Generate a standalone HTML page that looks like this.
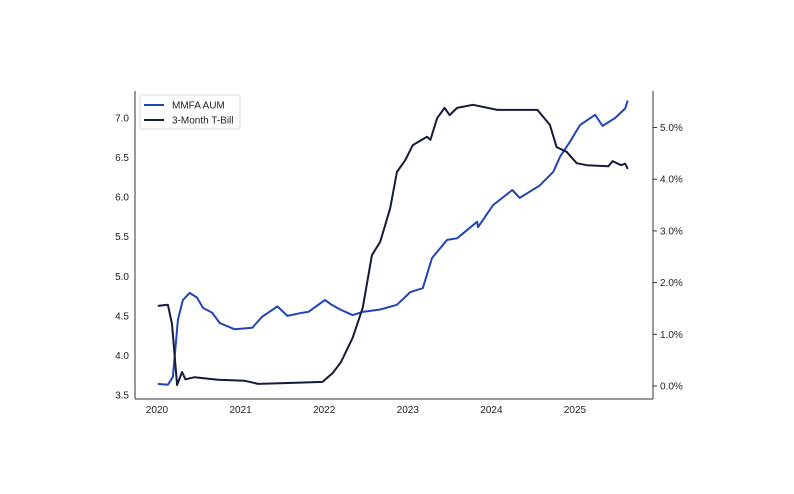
<!DOCTYPE html>
<html><head><meta charset="utf-8"><style>
body{margin:0;background:#fff;}
svg{display:block;font-family:"Liberation Sans",Arial,sans-serif;}
</style></head><body>
<svg id="chart" width="794" height="494"></svg>
<script>
const years = [2020,2021,2022,2023,2024,2025];
const leftTicks = [3.5,4.0,4.5,5.0,5.5,6.0,6.5,7.0];
const rightTicks = [0,1,2,3,4,5];
const aumDates = [2020.01,2020.13,2020.19,2020.25,2020.31,2020.39,2020.48,2020.55,2020.66,2020.75,2020.93,2021.14,2021.26,2021.33,2021.44,2021.56,2021.74,2021.81,2022.01,2022.09,2022.19,2022.34,2022.46,2022.67,2022.87,2023.03,2023.18,2023.29,2023.47,2023.59,2023.83,2023.84,2024.02,2024.25,2024.34,2024.58,2024.74,2024.82,2024.94,2025.06,2025.24,2025.33,2025.48,2025.60,2025.63];
const aumValues = [3.64,3.63,3.73,4.45,4.70,4.79,4.73,4.60,4.54,4.41,4.33,4.35,4.49,4.54,4.62,4.50,4.54,4.55,4.70,4.64,4.58,4.51,4.55,4.58,4.64,4.80,4.85,5.23,5.46,5.48,5.69,5.62,5.90,6.09,5.99,6.15,6.32,6.51,6.70,6.91,7.04,6.90,7.00,7.12,7.22];
const tbDates = [2020.01,2020.13,2020.18,2020.24,2020.30,2020.34,2020.45,2020.73,2021.05,2021.21,2021.62,2021.98,2022.10,2022.20,2022.34,2022.46,2022.57,2022.67,2022.79,2022.87,2022.97,2023.06,2023.23,2023.27,2023.35,2023.44,2023.50,2023.59,2023.78,2024.07,2024.55,2024.70,2024.78,2024.90,2025.02,2025.14,2025.40,2025.45,2025.55,2025.60,2025.63];
const tbValues = [1.55,1.57,1.2,0.02,0.27,0.13,0.17,0.12,0.10,0.04,0.06,0.08,0.25,0.46,0.93,1.51,2.53,2.79,3.44,4.14,4.37,4.66,4.82,4.76,5.18,5.38,5.24,5.38,5.44,5.34,5.34,5.05,4.62,4.53,4.31,4.27,4.25,4.35,4.27,4.30,4.20];

const NS='http://www.w3.org/2000/svg';
const svg=document.getElementById('chart');
const L=135,R=653,T=91,B=399;
const x=v=>157+(v-2020)*83.6;
const yl=v=>118+(7.0-v)*79.14;
const yr=v=>386-v*51.7;
function mk(tag,attrs){const e=document.createElementNS(NS,tag);for(const k in attrs)e.setAttribute(k,attrs[k]);svg.appendChild(e);return e;}

const ax1=mk('line',{x1:L,y1:T,x2:L,y2:B,stroke:'#333','stroke-width':1});


const ax2=mk('line',{x1:R,y1:T,x2:R,y2:B,stroke:'#333','stroke-width':1});


const ax3=mk('line',{x1:L,y1:B,x2:R,y2:B,stroke:'#333','stroke-width':1});



years.forEach(yv=>{
  const t=mk('text',{x:x(yv),y:B+14,'text-anchor':'middle','font-size':10,fill:'#222'});
  t.textContent=String(yv);
  
  
});
leftTicks.forEach(v=>{
  const t=mk('text',{x:L-6,y:yl(v)+3.5,'text-anchor':'end','font-size':10,fill:'#222'});
  t.textContent=v.toFixed(1);
  
  
});
rightTicks.forEach(v=>{
  mk('line',{x1:R,y1:yr(v),x2:R+4,y2:yr(v),stroke:'#333','stroke-width':1});
  const t=mk('text',{x:R+7,y:yr(v)+3.5,'font-size':10,fill:'#222'});
  t.textContent=v.toFixed(1)+'%';
  
  
});

function path(ds,vs,fy){return ds.map((d,i)=>(i?'L':'M')+x(d).toFixed(1)+','+fy(vs[i]).toFixed(1)).join('');}
const p1=mk('path',{d:path(aumDates,aumValues,yl),fill:'none',stroke:'#1f45b8','stroke-width':2,'stroke-linejoin':'round'});


const p2=mk('path',{d:path(tbDates,tbValues,yr),fill:'none',stroke:'#141a3c','stroke-width':2,'stroke-linejoin':'round'});



const lg=mk('rect',{x:140,y:95,width:100,height:34,fill:'#fff',stroke:'#ddd','stroke-width':1,rx:2});


[['MMFA AUM','#1f45b8',105],['3-Month T-Bill','#141a3c',120]].forEach(([n,c,yy])=>{
  mk('line',{x1:144,y1:yy,x2:164,y2:yy,stroke:c,'stroke-width':2});
  const t=mk('text',{x:172,y:yy+3.5,'font-size':10,fill:'#222'});
  t.textContent=n;
  
  
});
</script>
</body></html>
